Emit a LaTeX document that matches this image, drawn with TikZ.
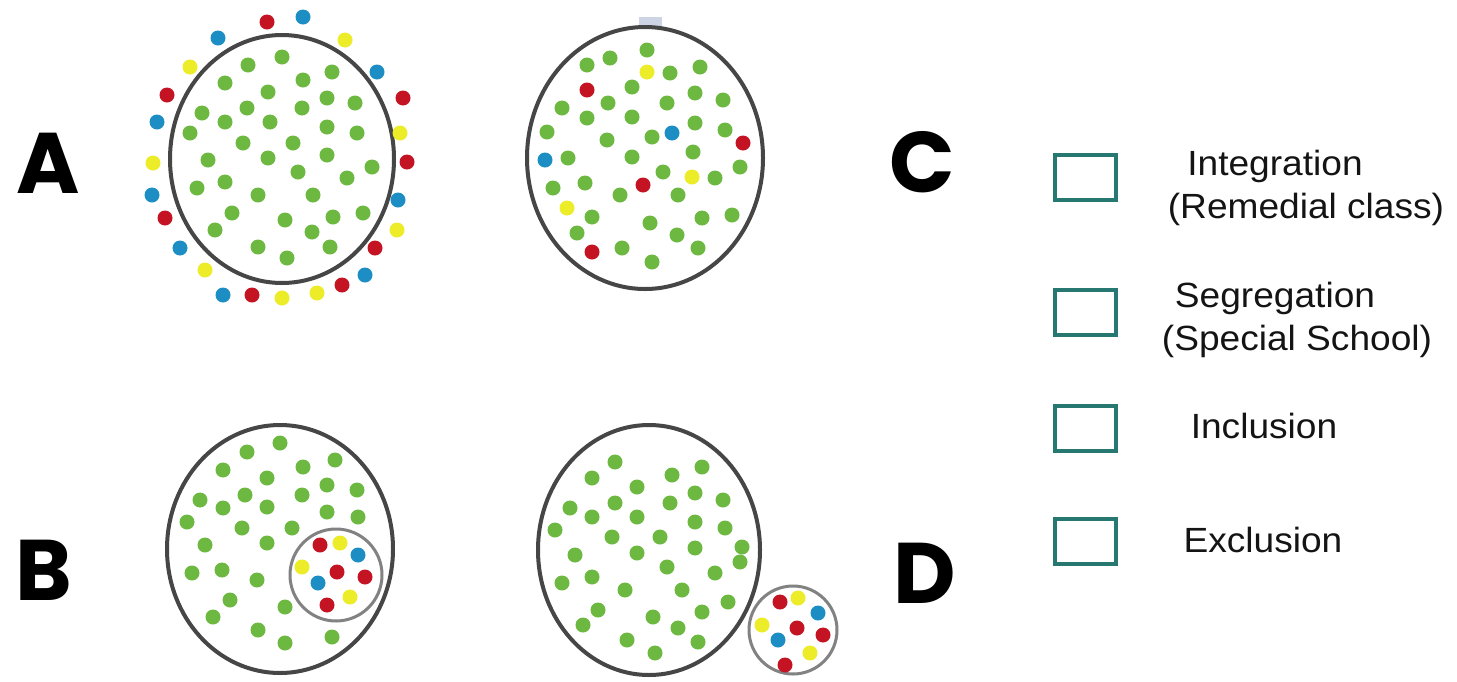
\documentclass[tikz,border=0pt]{standalone}
\usepackage{fontspec}
\setmainfont{Liberation Sans}
\newfontfamily\legendfont{Liberation Sans}[FakeStretch=1.06]
\newfontfamily\letterfont{Poppins}
\definecolor{dgreen}{RGB}{108,184,64}
\definecolor{dred}{RGB}{196,20,36}
\definecolor{dblue}{RGB}{28,142,196}
\definecolor{dyellow}{RGB}{236,236,40}
\definecolor{ringgray}{RGB}{70,70,70}
\definecolor{ringlight}{RGB}{130,130,130}
\definecolor{boxteal}{RGB}{38,120,112}
\definecolor{speck}{RGB}{205,212,228}
\begin{document}
\begin{tikzpicture}[x=1pt,y=-1pt,
  bigring/.style={draw=ringgray,line width=4pt},
  smallring/.style={draw=ringlight,line width=3pt},
  letter/.style={font=\letterfont\bfseries\fontsize{86}{90}\selectfont,inner sep=0pt,text=black},
  legendbox/.style={draw=boxteal,line width=4pt,minimum width=61pt,minimum height=45pt,inner sep=0pt},
  legendtext/.style={font=\legendfont\fontsize{35}{40}\selectfont,anchor=base,inner sep=0pt,text=black!92}]
\useasboundingbox (0,0) rectangle (1457,681);
\fill[white] (0,0) rectangle (1457,681);

% ---------- A ----------
\draw[bigring] (282,159) ellipse [x radius=112, y radius=124];
\foreach \x/\y in {282/57,248/65,332/72,303/80,225/83,268/92,327/98,355/103,202/113,247/108,302/108,225/122,270/122,327/127,190/133,357/133,243/143,293/143,208/160,268/158,327/155,372/167,298/172,347/178,197/188,225/182,258/195,313/195,232/213,285/220,333/217,363/213,215/230,312/232,258/247,330/247,287/258}
  \fill[dgreen] (\x,\y) circle[radius=7.5];
\foreach \c/\x/\y in {dred/267/22,dblue/303/17,dblue/218/38,dyellow/345/40,dyellow/190/67,dblue/377/72,dred/167/95,dred/403/98,dblue/157/122,dyellow/400/133,dyellow/153/163,dred/407/162,dblue/152/195,dblue/398/200,dred/165/218,dyellow/397/230,dblue/180/248,dred/375/248,dyellow/205/270,dblue/365/275,dblue/223/295,dred/252/295,dyellow/282/298,dyellow/317/293,dred/342/285}
  \fill[\c] (\x,\y) circle[radius=7.5];

% ---------- C ----------
\fill[speck] (639,17) rectangle (662,27);
\draw[bigring] (645,158) ellipse [x radius=118, y radius=131];
\foreach \c/\x/\y in {dgreen/647/50,dgreen/610/58,dgreen/587/65,dyellow/647/72,dgreen/670/73,dgreen/700/67,dred/587/90,dgreen/632/87,dgreen/695/93,dgreen/723/100,dgreen/562/108,dgreen/608/103,dgreen/667/103,dgreen/587/118,dgreen/632/117,dgreen/695/123,dgreen/547/132,dgreen/607/140,dgreen/652/137,dblue/672/133,dgreen/725/130,dred/743/143,dblue/545/160,dgreen/568/158,dgreen/632/157,dgreen/693/152,dgreen/663/172,dyellow/692/177,dgreen/715/178,dgreen/740/167,dred/643/185,dgreen/553/188,dgreen/585/183,dgreen/620/195,dgreen/678/195,dyellow/567/208,dgreen/592/217,dgreen/650/223,dgreen/702/218,dgreen/732/215,dgreen/577/233,dgreen/677/235,dred/592/252,dgreen/622/248,dgreen/698/248,dgreen/652/262}
  \fill[\c] (\x,\y) circle[radius=7.5];

% ---------- B ----------
\draw[bigring] (280,549) ellipse [x radius=113, y radius=124];
\foreach \x/\y in {280/443,247/452,335/460,223/470,303/467,267/478,327/485,357/490,200/500,245/495,302/495,223/508,267/507,327/512,358/517,187/522,242/528,292/528,205/545,267/543,192/573,222/570,257/580,230/600,285/607,213/617,258/630,332/637,285/643}
  \fill[dgreen] (\x,\y) circle[radius=7.5];
\draw[smallring] (336,575) circle[radius=46];
\foreach \c/\x/\y in {dred/320/545,dyellow/340/543,dblue/358/555,dyellow/302/567,dred/337/572,dred/365/577,dblue/318/583,dyellow/350/597,dred/327/605}
  \fill[\c] (\x,\y) circle[radius=7.5];

% ---------- D ----------
\draw[bigring] (649,550) ellipse [x radius=111, y radius=125];
\foreach \x/\y in {615/462,702/467,592/478,672/475,637/487,695/493,723/500,570/508,615/503,670/503,592/517,637/517,695/522,725/528,555/530,612/537,660/537,695/548,742/547,575/555,637/553,667/567,740/562,715/573,562/583,592/577,625/590,682/590,598/610,728/602,702/612,583/625,653/617,678/628,627/640,698/642,655/653}
  \fill[dgreen] (\x,\y) circle[radius=7.5];
\draw[smallring] (793,630) circle[radius=44];
\foreach \c/\x/\y in {dred/780/602,dyellow/798/598,dblue/818/613,dyellow/762/625,dred/797/628,dred/823/635,dblue/778/640,dyellow/810/653,dred/785/665}
  \fill[\c] (\x,\y) circle[radius=7.5];

% ---------- letters ----------
\node[letter] (la) at (48,163) {A};
\node[letter] (lb) at (44,570) {B};
\node[letter] (lc) at (922,162) {C};
\node[letter] (ld) at (925,573) {D};

% ---------- legend ----------
\node[legendbox] (box1) at (1085.5,177.5) {};
\node[legendbox] (box2) at (1085.5,312.5) {};
\node[legendbox] (box3) at (1085.5,428) {};
\node[legendbox] (box4) at (1085.5,541.5) {};
\node[legendtext] (t1a) at (1275,175) {Integration};
\node[legendtext] (t1b) at (1306,218) {(Remedial class)};
\node[legendtext] (t2a) at (1275,307) {Segregation};
\node[legendtext] (t2b) at (1297,350) {(Special School)};
\node[legendtext] (t3) at (1264,438) {Inclusion};
\node[legendtext] (t4) at (1263,552) {Exclusion};
\end{tikzpicture}
\end{document}
